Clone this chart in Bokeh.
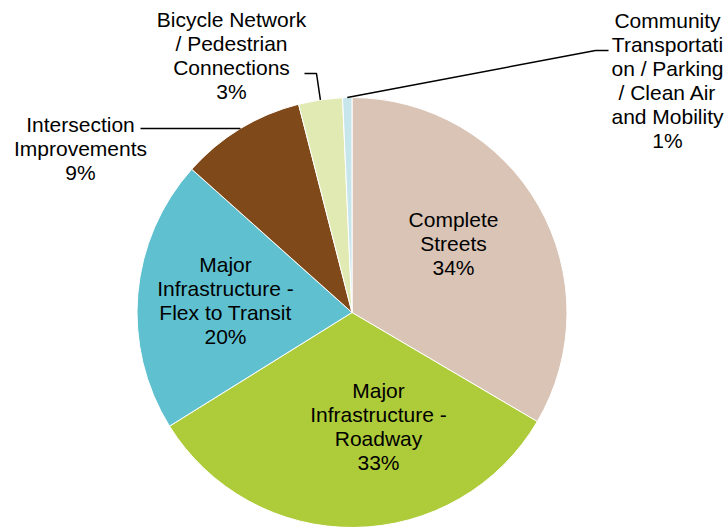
import math
from bokeh.plotting import figure
from bokeh.models import Range1d
from bokeh.core.properties import value
from bokeh.embed import file_html
from bokeh.resources import INLINE

# ---- data ----
categories = [
    "Complete\nStreets",
    "Major\nInfrastructure -\nRoadway",
    "Major\nInfrastructure -\nFlex to Transit",
    "Intersection\nImprovements",
    "Bicycle Network\n/ Pedestrian\nConnections",
    "Community\nTransportati\non / Parking\n/ Clean Air\nand Mobility",
]
shares = [33.5, 32.7, 20.5, 9.4, 3.3, 0.7]
pct_labels = ["34%", "33%", "20%", "9%", "3%", "1%"]
colors = ["#D9C4B6", "#AECB3A", "#5FC1D0", "#7F4919", "#E2EAB4", "#C6E6EC"]

# ---- layout ----
W, H = 725, 527
CX, CY, R = 351.5, H - 312, 215
# label centres in pixel coords (x, y from top)
label_pos = [(453, 243), (378, 426), (225, 300), (80, 148), (231, 55), (667, 80)]
# leader elbow points (pixel coords), None when label sits inside
elbows = [None, None, None,
          [(239.5, 128), (140, 128)],
          [(316, 73), (304, 73)],
          [(595, 50), (608, 50)]]

p = figure(width=W, height=H, x_range=Range1d(0, W), y_range=Range1d(0, H),
           x_axis_type=None, y_axis_type=None, toolbar_location=None,
           output_backend="svg", min_border=0, outline_line_color=None)
p.grid.visible = False
p.background_fill_color = "white"
p.border_fill_color = "white"

total = sum(shares)
start = math.pi / 2
starts, ends, mids = [], [], []
for s in shares:
    a = 2 * math.pi * s / total
    starts.append(start)
    ends.append(start - a)
    mids.append(start - a / 2)
    start -= a

p.wedge(x=CX, y=CY, radius=R, start_angle=starts, end_angle=ends,
        direction="clock", fill_color=colors, line_color="white", line_width=1)

# leaders
for i, el in enumerate(elbows):
    if el is None:
        continue
    ax = CX + R * math.cos(mids[i])
    ay = CY + R * math.sin(mids[i])
    xs = [ax] + [e[0] for e in el]
    ys = [ay] + [H - e[1] for e in el]
    p.line(xs, ys, line_color="black", line_width=1.5)

texts = [c + "\n" + pc for c, pc in zip(categories, pct_labels)]
p.text(x=[lp[0] for lp in label_pos], y=[H - lp[1] for lp in label_pos], text=texts,
       text_align="center", text_baseline="middle",
       text_font=value("Liberation Sans"), text_font_size="21px",
       text_color="black", text_line_height=1.05)

open("out.html", "w").write(file_html(p, INLINE))
